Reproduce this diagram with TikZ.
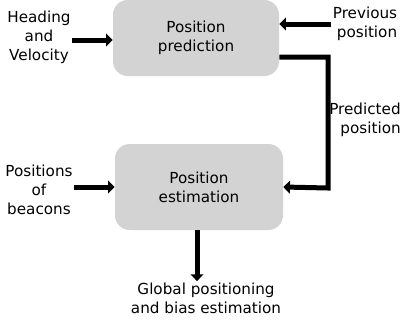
\documentclass[tikz,border=0pt]{standalone}
\usepackage{fontspec}
\setmainfont{DejaVu Sans}
\usetikzlibrary{arrows.meta}
\definecolor{boxgray}{RGB}{211,211,211}

\begin{document}
\begin{tikzpicture}[x=0.75pt, y=-0.75pt,
    font=\fontsize{11.4}{14.2}\selectfont,
    block/.style={fill=boxgray, rounded corners=11pt, minimum width=124.5pt, align=center},
    label/.style={align=center, inner sep=1pt},
    flow/.style={line width=3.75pt, -{Triangle[length=5pt, width=9.5pt]}}]
  \useasboundingbox (0,0) rectangle (402,322);

  % Blocks
  \node[block, minimum height=57pt] (pred) at (196,38) {Position\\prediction};
  \node[block, minimum width=126pt, minimum height=64.5pt] (est) at (199,187) {Position\\estimation};

  % Inputs and outputs
  \node[label] (head) at (39,37) {Heading\\and\\Velocity};
  \node[label, align=right] (prev) at (365,24) {Previous\\position};
  \node[label, align=right] (predpos) at (365,120) {Predicted\\position};
  \node[label] (beac) at (39,190) {Positions\\of\\beacons};
  \node[label] (glob) at (206,298) {Global positioning\\and bias estimation};
  \coordinate (bend) at (328,188);

  % Arrows
  \draw[flow] ([yshift=-1.5pt]head.east |- pred) -- ([yshift=-1.5pt]pred.west);
  \draw[flow] (prev.west) -- (pred.east |- prev.west);
  \draw[flow] (pred.-13) -| (bend) -- (est.east);
  \draw[flow] (beac.east |- est) -- (est.west);
  \draw[flow] ([xshift=-1.5pt]est.south) -- ([xshift=-1.5pt]est.south |- glob.north);
\end{tikzpicture}
\end{document}
